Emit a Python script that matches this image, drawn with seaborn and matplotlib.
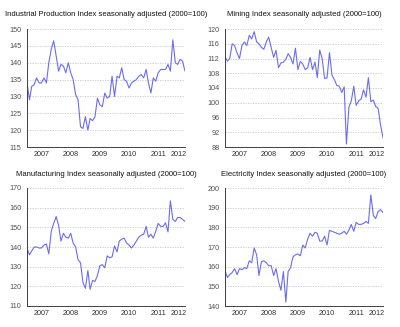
import numpy as np
import pandas as pd
import matplotlib
matplotlib.use("Agg")
import matplotlib.pyplot as plt
import matplotlib.dates as mdates
from matplotlib.ticker import FixedLocator, NullFormatter
import seaborn as sns

industrial = [134, 129, 133, 133.5, 135.5, 134, 134, 135.5, 134, 140, 144, 146.5,
              142, 137.5, 139.5, 139, 137, 140, 137, 135, 130.5, 129, 121, 120.5,
              124, 120, 123.5, 122.8, 124, 129.5, 127.5, 127, 131, 129.5, 130, 136,
              130, 136, 135.5, 138.5, 135, 134.5, 132.5, 134, 134.5, 135, 136, 136.5,
              135.5, 138, 134, 131, 135.5, 134.5, 137, 138, 138, 138, 139.5, 137.5,
              146.8, 140, 139.5, 141, 140.5, 137.5]

mining = [112.5, 111.3, 112, 116, 115.5, 113.5, 112, 115.5, 116.5, 115.5, 118.3, 117.3,
          119.3, 116.5, 116, 115, 114.5, 116.5, 117.8, 115, 112.3, 114.2, 109.5, 110.8,
          111, 111.8, 113.3, 112.3, 110.5, 114.8, 109, 111.2, 110.5, 109, 109.5, 112.3,
          109, 111, 106.8, 114.3, 112, 106.6, 106.7, 113.6, 107.5, 106.3, 104.7, 104.5,
          102.8, 104.3, 88.8, 98.8, 100.5, 104.5, 99.3, 100.5, 101, 103.5, 101.5, 106.8,
          100.3, 100.7, 99, 98.5, 94, 90.5]

manufacturing = [139.5, 136, 138, 140, 140, 139.5, 139.5, 141, 141.5, 136.5, 148, 152,
                 155.5, 151, 143, 147, 145, 144.5, 147, 142, 140, 133.5, 132, 122,
                 119, 128, 118.5, 123, 122.5, 125.5, 130.5, 131, 129.5, 135.5, 134.5, 135,
                 140.5, 137.5, 143, 144, 144.5, 142, 141, 139.5, 141, 143, 145, 146,
                 146.5, 150.5, 145, 146.5, 144.5, 148, 152, 150.5, 150.5, 152.3, 147.7, 163.5,
                 154, 153, 155, 155, 154, 153]

electricity = [158, 154.5, 156, 157, 159, 156, 159, 158.5, 159.5, 159, 163, 162,
               169.5, 166, 155.5, 162.5, 163, 162, 160.5, 160.5, 155.5, 159, 152.5, 148,
               157.5, 142, 157.5, 159.5, 165, 166, 166.5, 165.5, 171, 169.5, 174, 177,
               175.5, 177.5, 177, 173, 173, 175.5, 171, 178.5, 178, 177.5, 177, 176.5,
               177, 178, 176.5, 178.5, 181.5, 178, 182.5, 181.5, 181.5, 182, 183, 182,
               196.5, 186, 184.5, 188, 189, 187.5]

titles = ["Industrial Production Index seasonally adjusted (2000=100)",
          "Mining Index seasonally adjusted (2000=100)",
          "Manufacturing Index seasonally adjusted (2000=100)",
          "Electricity Index seasonally adjusted (2000=100)"]
yticks = [list(range(115, 151, 5)), list(range(88, 121, 4)),
          list(range(110, 171, 10)), list(range(140, 201, 10))]
year_labels = ["2007", "2008", "2009", "2010", "2011", "2012"]
series = [industrial, mining, manufacturing, electricity]

sns.set_style("white")
plt.rcParams['font.family'] = ['Liberation Sans', 'DejaVu Sans']

fig = plt.figure(figsize=(4.0, 3.27), dpi=100)
W, H = 400, 327
boxes = [(27, 29, 185, 147), (225, 29, 383, 147), (27, 188, 185, 306), (225, 188, 383, 306)]

line_color = "#6b6bf5"
text_color = "#303030"

for vals, title, yt, (l, t, r, b) in zip(series, titles, yticks, boxes):
    ax = fig.add_axes([l / W, (H - b) / H, (r - l) / W, (b - t) / H])
    dates = pd.date_range("2007-01-01", periods=len(vals), freq="MS")
    df = pd.DataFrame({"date": dates, "value": vals})
    sns.lineplot(data=df, x="date", y="value", ax=ax, color=line_color, linewidth=0.8)
    xmin, xmax = mdates.date2num(dates[0]), mdates.date2num(dates[-1])
    ax.set_xlim(xmin, xmax)
    ax.set_ylim(yt[0], yt[-1])
    ax.set_yticks(yt)
    ax.set_yticklabels([str(v) for v in yt])
    years = [int(y) for y in year_labels]
    majors = [mdates.date2num(pd.Timestamp(f"{y}-01-01")) for y in years[1:]]
    mids = []
    for y in years:
        s = max(mdates.date2num(pd.Timestamp(f"{y}-01-01")), xmin)
        e = min(mdates.date2num(pd.Timestamp(f"{y + 1}-01-01")), xmax)
        mids.append((s + e) / 2)
    ax.xaxis.set_major_locator(FixedLocator(majors))
    ax.xaxis.set_major_formatter(NullFormatter())
    ax.set_xticks(mids, labels=year_labels, minor=True)
    ax.tick_params(axis="x", which="major", length=2.5, width=0.6, color="#404040", direction="out")
    ax.tick_params(axis="x", which="minor", length=0, labelsize=5.2, labelcolor=text_color, pad=3)
    ax.tick_params(axis="y", which="major", length=2.5, width=0.6, color="#404040", direction="out",
                   labelsize=5.2, labelcolor="#505050", pad=1.5)
    ax.set_xlabel("")
    ax.set_ylabel("")
    ax.grid(axis="y", color="#c8c8c8", linestyle=(0, (1.5, 1.5)), linewidth=0.6)
    ax.grid(axis="x", visible=False)
    for side in ["top", "right"]:
        ax.spines[side].set_visible(False)
    for side in ["left", "bottom"]:
        ax.spines[side].set_color("#404040")
        ax.spines[side].set_linewidth(0.7)
    ax.set_title(title, fontsize=5.5, color="#101010", pad=9)

fig.savefig("out.png", dpi=100)
